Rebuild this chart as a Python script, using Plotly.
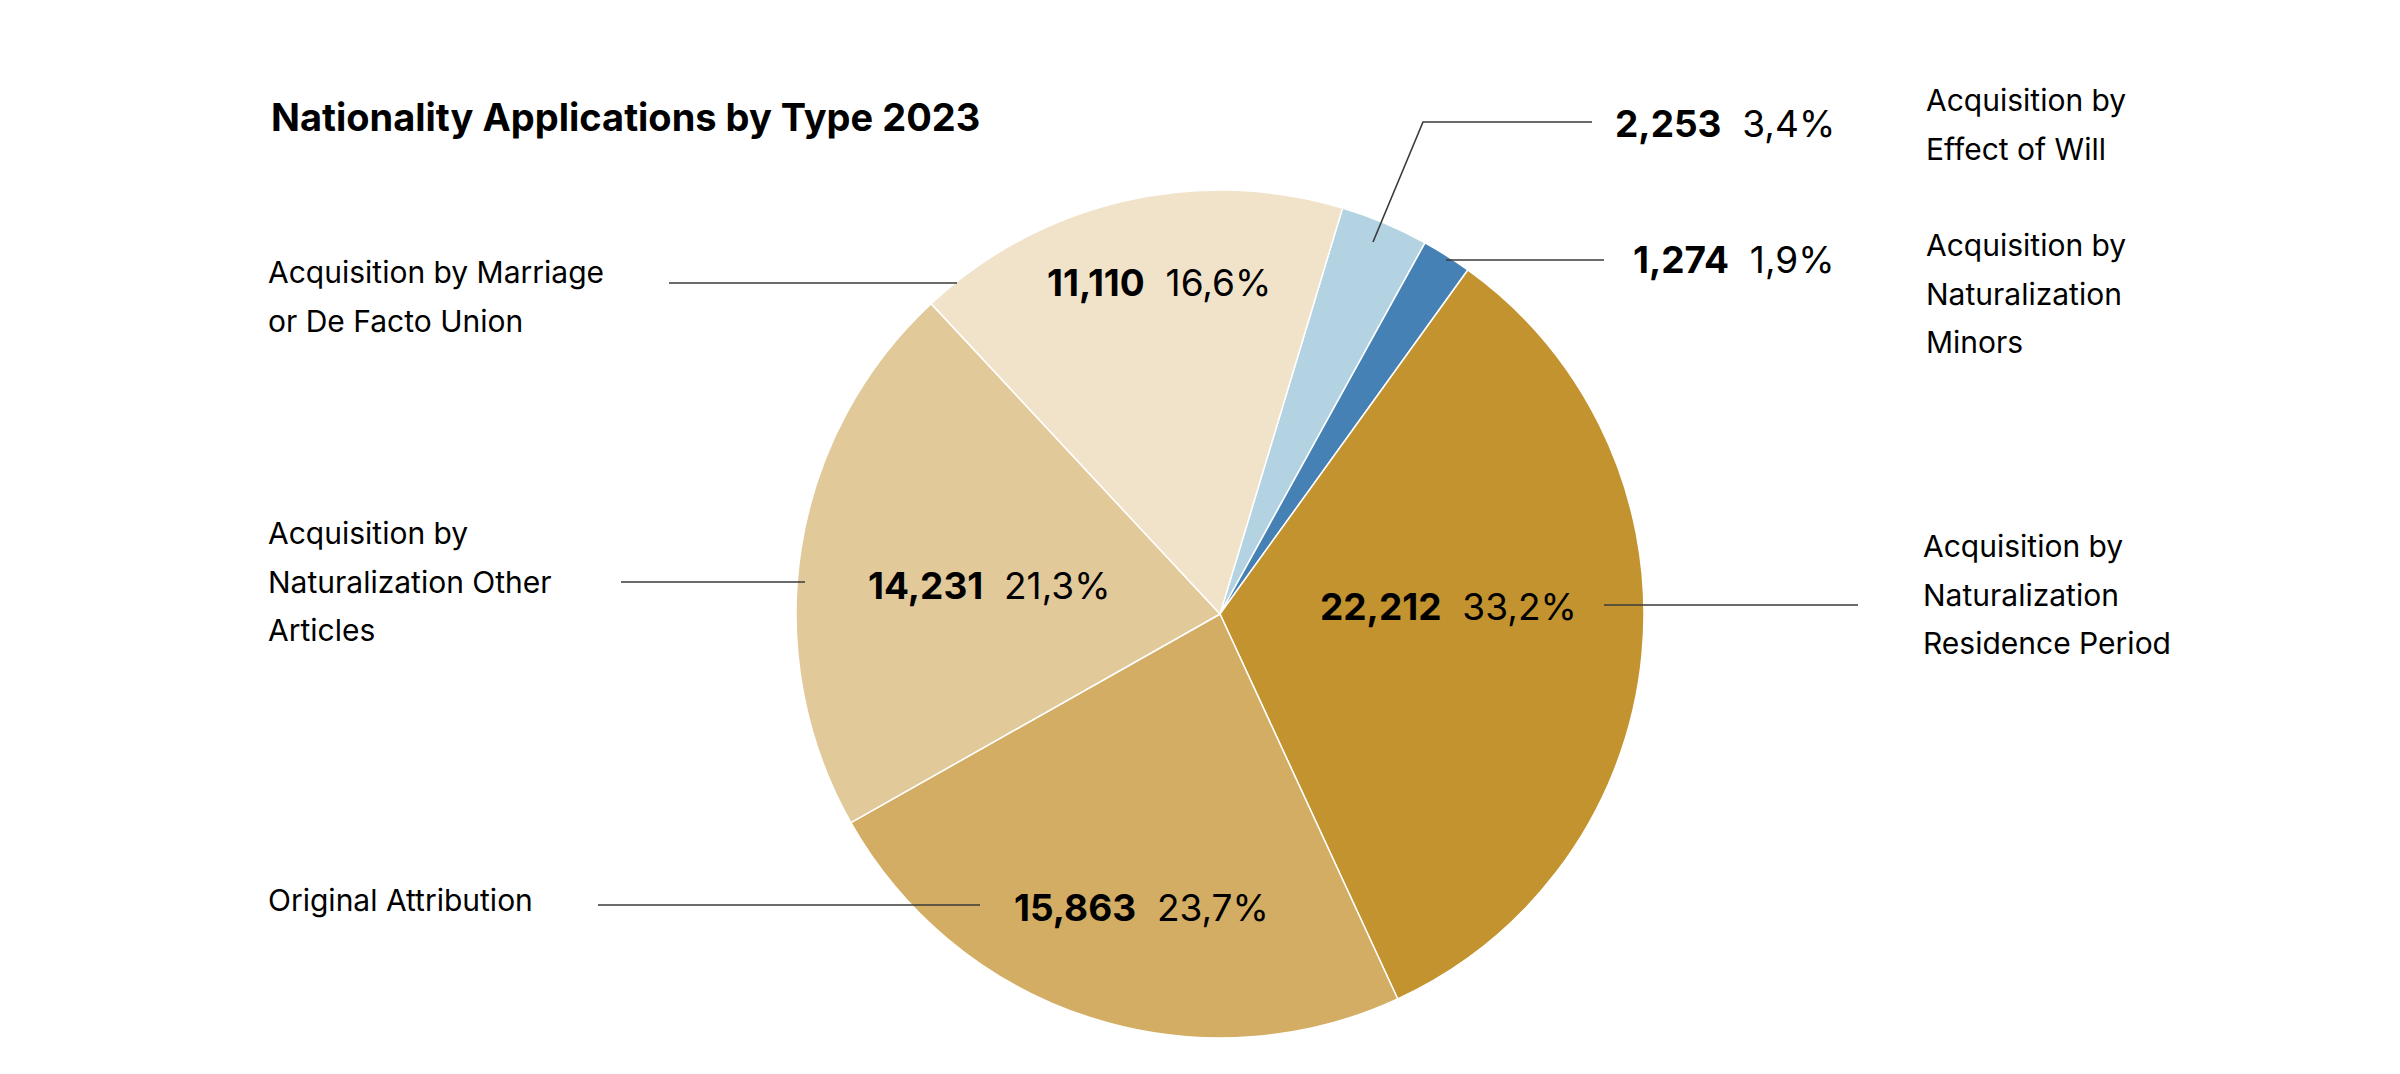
import plotly.graph_objects as go

W, H = 2400, 1074

# ---- data ----
categories = [
    "Acquisition by<br>Effect of Will",
    "Acquisition by<br>Naturalization<br>Minors",
    "Acquisition by<br>Naturalization<br>Residence Period",
    "Original Attribution",
    "Acquisition by<br>Naturalization Other<br>Articles",
    "Acquisition by Marriage<br>or De Facto Union",
]
values = [2253, 1274, 22212, 15863, 14231, 11110]
colors = ["#B3D3E3", "#4581B4", "#C3932F", "#D3AD63", "#E1C99A", "#F0E3CA"]
title = "Nationality Applications by Type 2023"

total = sum(values)
pcts = [f"{v / total * 100:.1f}".replace(".", ",") + "%" for v in values]
value_texts = [f"<b>{v:,}</b>\u00a0\u00a0{p}" for v, p in zip(values, pcts)]

# ---- layout helpers (pixel -> paper) ----
def px(x):
    return x / W

def py(y):
    return 1 - y / H

CX, CY, R = 1220, 614, 424

fig = go.Figure()
fig.add_trace(go.Pie(
    values=values,
    labels=[c.replace("<br>", " ") for c in categories],
    marker=dict(colors=colors, line=dict(color="white", width=1.5)),
    sort=False,
    direction="clockwise",
    rotation=16.8,
    textinfo="none",
    hoverinfo="label+value+percent",
    showlegend=False,
    domain=dict(x=[px(CX - R), px(CX + R)], y=[py(CY + R), py(CY - R)]),
))

# value label placement (x, y, anchor)
val_pos = [
    (1837, 124, "right"),
    (1837, 260, "right"),
    (1318, 606, "left"),
    (1012, 907, "left"),
    (866, 585, "left"),
    (1045, 282, "left"),
]
# category label placement (x, first-line y)
cat_pos = [
    (1924, 100),
    (1924, 245),
    (1921, 546),
    (266, 900),
    (266, 533),
    (266, 272),
]
LINE_GAP = 48.5
# leader lines (polyline points)
leaders = [
    [(1373, 242), (1423, 122), (1592, 122)],
    [(1446, 260), (1604, 260)],
    [(1604, 605), (1858, 605)],
    [(598, 905), (980, 905)],
    [(621, 582), (805, 582)],
    [(669, 283), (957, 283)],
]

FONT = "Inter"
ann = []
for i in range(len(values)):
    x, y, a = val_pos[i]
    ann.append(dict(x=px(x), y=py(y), xref="paper", yref="paper", text=value_texts[i],
                    showarrow=False, xanchor=a, yanchor="middle",
                    font=dict(family=FONT, size=37, color="#000000")))
    cx, cy = cat_pos[i]
    for j, line in enumerate(categories[i].split("<br>")):
        ann.append(dict(x=px(cx), y=py(cy + j * LINE_GAP), xref="paper", yref="paper", text=line,
                        showarrow=False, xanchor="left", yanchor="middle",
                        font=dict(family=FONT, size=30, color="#000000")))

ann.append(dict(x=px(269), y=py(117), xref="paper", yref="paper", text=f"<b>{title}</b>",
                showarrow=False, xanchor="left", yanchor="middle",
                font=dict(family=FONT, size=38, color="#000000")))

shapes = []
for pts in leaders:
    d = "M " + " L ".join(f"{px(x)},{py(y)}" for x, y in pts)
    shapes.append(dict(type="path", path=d, xref="paper", yref="paper",
                       line=dict(color="#3a3a3a", width=1.6)))

fig.update_layout(
    width=W, height=H,
    margin=dict(l=0, r=0, t=0, b=0),
    paper_bgcolor="white", plot_bgcolor="white",
    annotations=ann, shapes=shapes,
    font=dict(family=FONT),
)

fig.write_html("out.html")
